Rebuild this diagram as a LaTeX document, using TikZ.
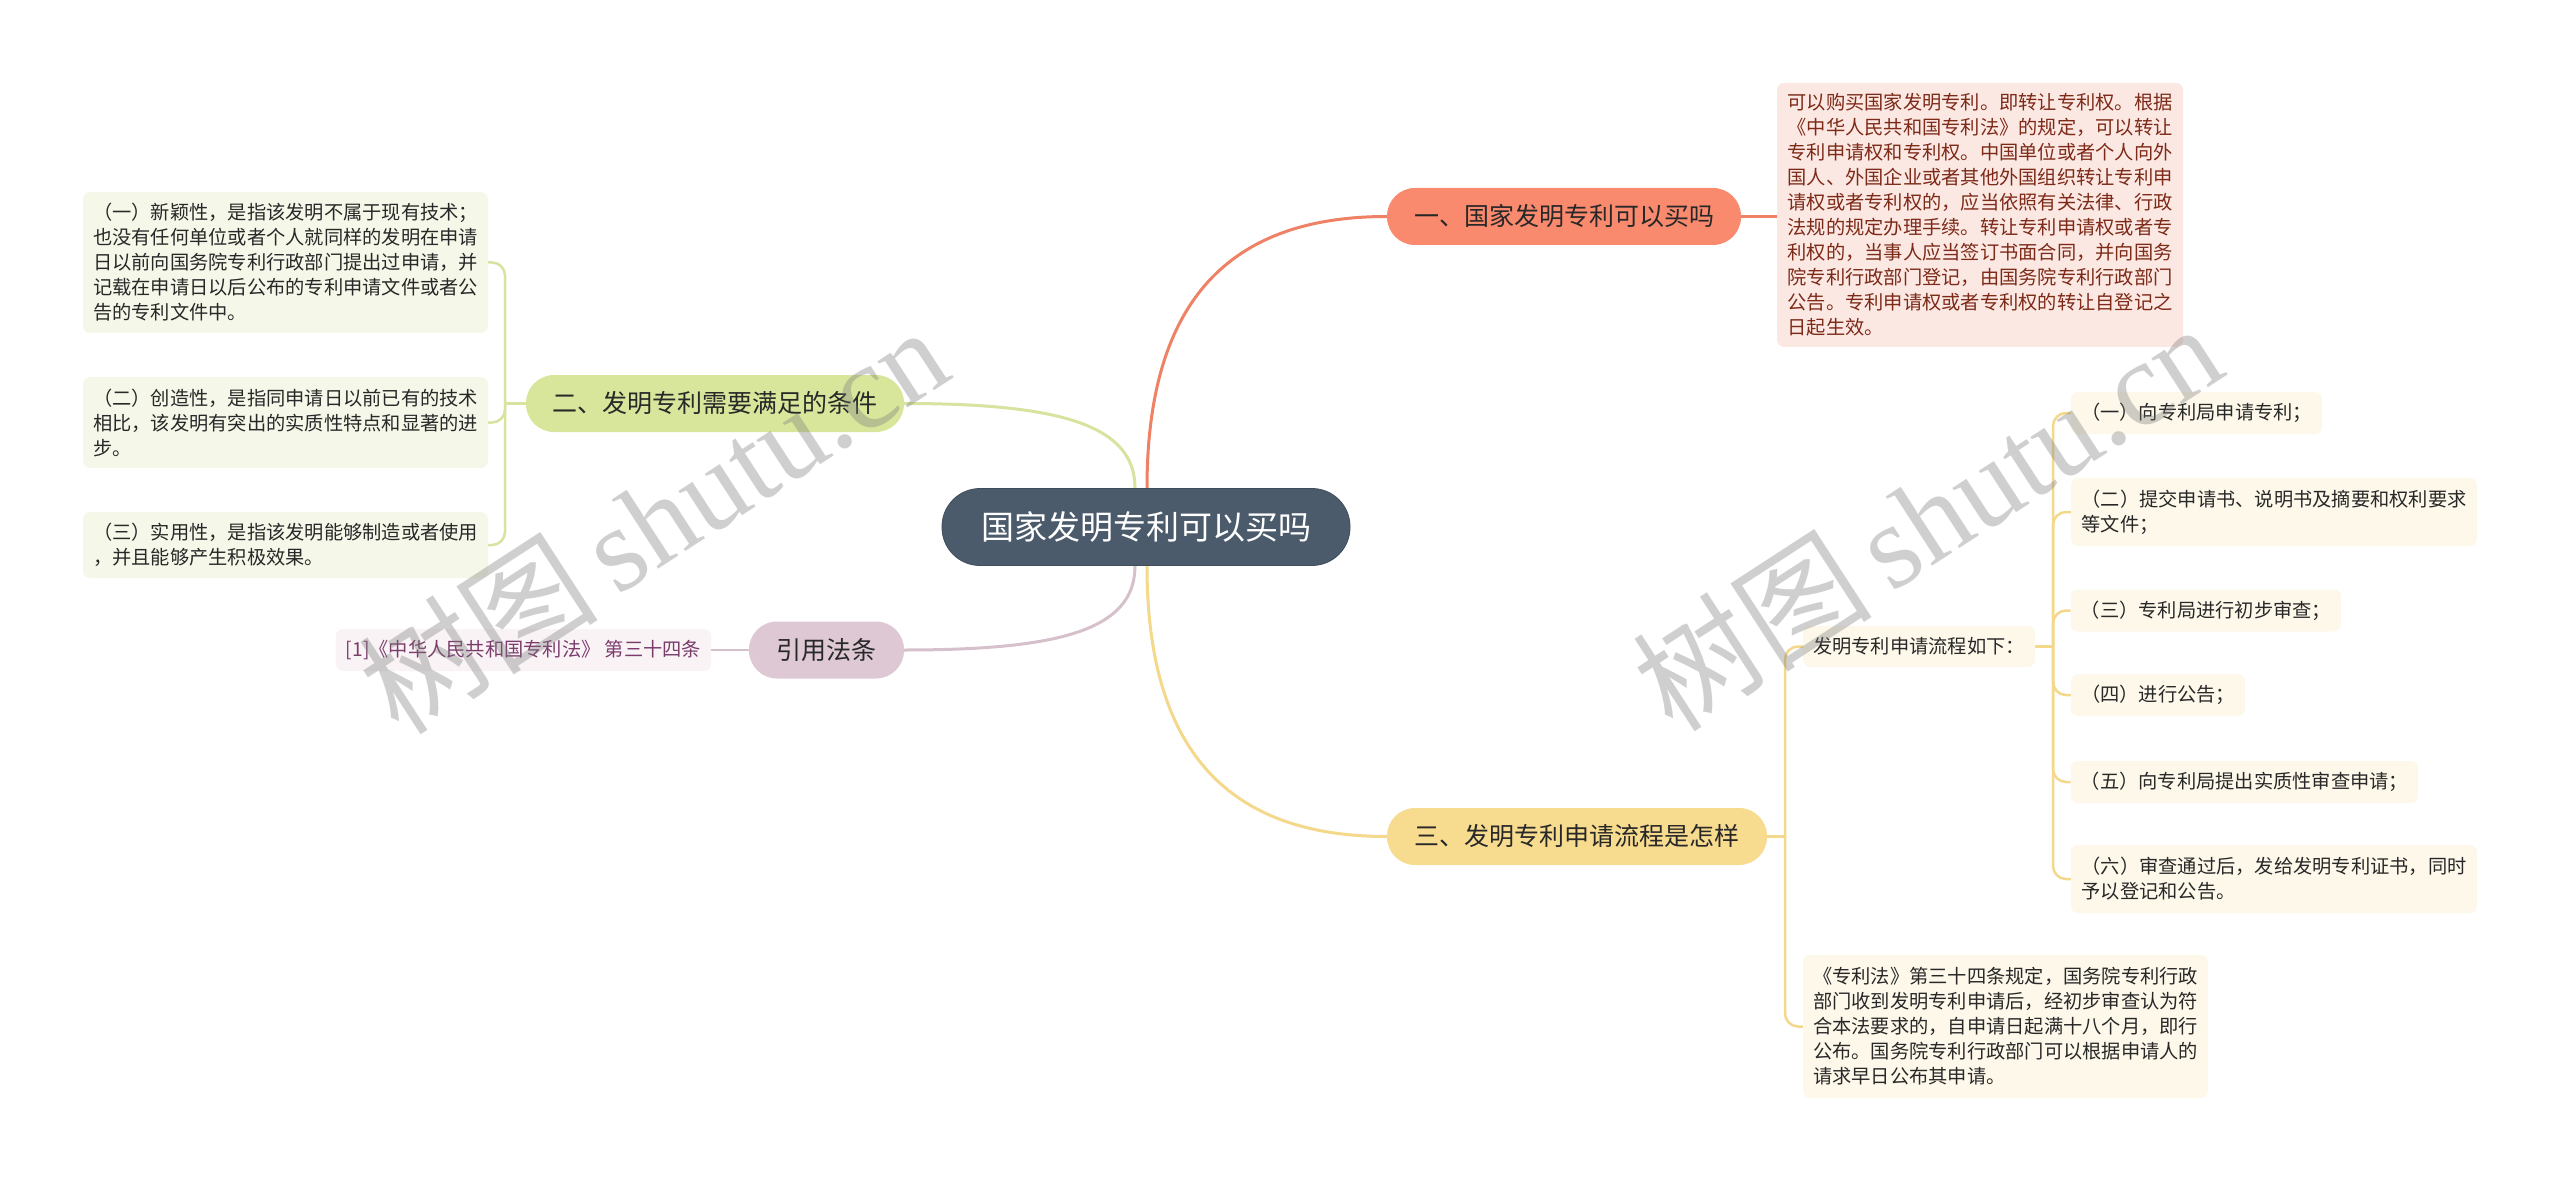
\documentclass[tikz,border=0pt]{standalone}
\usepackage{fontspec}
\setmainfont{Noto Sans CJK SC}
\newfontfamily\wmserif{Liberation Serif}
\pgfdeclarelayer{bg}
\pgfsetlayers{bg,main}
\definecolor{cfill}{RGB}{75,91,107}
\definecolor{tone}{RGB}{250,138,110}
\definecolor{ttwo}{RGB}{216,230,156}
\definecolor{tthree}{RGB}{247,219,142}
\definecolor{tfour}{RGB}{221,200,212}
\definecolor{lone}{RGB}{239,129,101}
\definecolor{ltwo}{RGB}{215,228,160}
\definecolor{lthree}{RGB}{244,216,140}
\definecolor{lfour}{RGB}{213,192,204}
\definecolor{bgone}{RGB}{252,232,227}
\definecolor{bgtwo}{RGB}{245,248,233}
\definecolor{bgthree}{RGB}{253,248,234}
\definecolor{bgfour}{RGB}{249,243,246}
\definecolor{txone}{RGB}{125,42,24}
\definecolor{txfour}{RGB}{123,60,108}
\definecolor{txdark}{RGB}{40,40,40}
\definecolor{wm}{RGB}{120,120,120}
\tikzset{
  central/.style={draw=cfill!85!black, line width=0.8pt, fill=cfill, text=white,
    rounded corners=38pt, minimum width=408pt, minimum height=77pt, inner sep=0pt,
    font=\fontsize{33}{40}\selectfont},
  topic/.style={rounded corners=28pt, minimum height=57pt, inner sep=0pt,
    font=\fontsize{25}{30}\selectfont, text=txdark},
  leaf/.style={rounded corners=7pt, inner xsep=10pt, inner ysep=0pt,
    font=\fontsize{19.25}{25}\selectfont, align=left, text=txdark},
  mainline/.style={line width=3pt},
  subline/.style={line width=2.5pt, rounded corners=13pt},
  wmark/.style={rotate=33, text=wm, text opacity=0.35, inner sep=0pt}
}
\begin{document}
\begin{tikzpicture}[x=1pt,y=-1pt]
\useasboundingbox (0,0) rectangle (2560,1182);
\begin{pgfonlayer}{bg}
\fill[white] (0,0) rectangle (2560,1182);
\end{pgfonlayer}

% central
\node[central] (C) at (1146,527) {国家发明专利可以买吗};

% topics
\node[topic, fill=tone, minimum width=354pt] (T1) at (1564,216.5) {一、国家发明专利可以买吗};
\node[topic, fill=ttwo, minimum width=378pt] (T2) at (715,403.5) {二、发明专利需要满足的条件};
\node[topic, fill=tthree, minimum width=380pt] (T3) at (1577,836.5) {三、发明专利申请流程是怎样};
\node[topic, fill=tfour, minimum width=155pt] (T4) at (826.5,650) {引用法条};

% branch one
\node[leaf, fill=bgone, text=txone, minimum width=406pt, minimum height=264pt] (P) at (1980,215) {可以购买国家发明专利。即转让专利权。根据\\《中华人民共和国专利法》的规定，可以转让\\专利申请权和专利权。中国单位或者个人向外\\国人、外国企业或者其他外国组织转让专利申\\请权或者专利权的，应当依照有关法律、行政\\法规的规定办理手续。转让专利申请权或者专\\利权的，当事人应当签订书面合同，并向国务\\院专利行政部门登记，由国务院专利行政部门\\公告。专利申请权或者专利权的转让自登记之\\日起生效。};

% branch two
\node[leaf, fill=bgtwo, minimum width=405pt, minimum height=141pt] (La) at (285.5,262.5) {（一）新颖性，是指该发明不属于现有技术；\\也没有任何单位或者个人就同样的发明在申请\\日以前向国务院专利行政部门提出过申请，并\\记载在申请日以后公布的专利申请文件或者公\\告的专利文件中。};
\node[leaf, fill=bgtwo, minimum width=405pt, minimum height=91pt] (Lb) at (285.5,422.5) {（二）创造性，是指同申请日以前已有的技术\\相比，该发明有突出的实质性特点和显著的进\\步。};
\node[leaf, fill=bgtwo, minimum width=405pt, minimum height=66pt] (Lc) at (285.5,545) {（三）实用性，是指该发明能够制造或者使用\\，并且能够产生积极效果。};

% branch three
\node[leaf, fill=bgthree, minimum width=232pt, minimum height=41pt] (Q0) at (1919,646.5) {发明专利申请流程如下：};
\node[leaf, fill=bgthree, minimum width=251pt, minimum height=42pt] (Q1) at (2196.5,413) {（一）向专利局申请专利；};
\node[leaf, fill=bgthree, minimum width=406pt, minimum height=68pt] (Q2) at (2274,512) {（二）提交申请书、说明书及摘要和权利要求\\等文件；};
\node[leaf, fill=bgthree, minimum width=270pt, minimum height=42pt] (Q3) at (2206,610.5) {（三）专利局进行初步审查；};
\node[leaf, fill=bgthree, minimum width=174pt, minimum height=42pt] (Q4) at (2158,695) {（四）进行公告；};
\node[leaf, fill=bgthree, minimum width=347pt, minimum height=42pt] (Q5) at (2244.5,782) {（五）向专利局提出实质性审查申请；};
\node[leaf, fill=bgthree, minimum width=406pt, minimum height=68pt] (Q6) at (2274,879) {（六）审查通过后，发给发明专利证书，同时\\予以登记和公告。};
\node[leaf, fill=bgthree, minimum width=405pt, minimum height=143pt] (R) at (2005.5,1026.5) {《专利法》第三十四条规定，国务院专利行政\\部门收到发明专利申请后，经初步审查认为符\\合本法要求的，自申请日起满十八个月，即行\\公布。国务院专利行政部门可以根据申请人的\\请求早日公布其申请。};

% branch four
\node[leaf, fill=bgfour, text=txfour, minimum width=375pt, minimum height=42pt] (S) at (523.5,650) {[1]《中华人民共和国专利法》 第三十四条};

% junction points
\coordinate (s2) at (505,403.5);
\coordinate (s3) at (1785,836.5);
\coordinate (s4) at (2053,646.5);

\begin{pgfonlayer}{bg}
% main curves
\draw[mainline, lone] ([xshift=1pt]C.north) .. controls (1147,300) and (1230,216.5) .. (T1.west);
\draw[mainline, lthree] ([xshift=1pt]C.south) .. controls (1147,753) and (1230,836.5) .. (T3.west);
\draw[mainline, ltwo] ([xshift=-11pt]C.north) .. controls (1135,425) and (1060,403.5) .. (T2.east);
\draw[mainline, lfour] ([xshift=-11pt]C.south) .. controls (1135,630) and (1060,650) .. (T4.east);
% branch one
\draw[subline, lone] (T1.east) -- (T1.east -| P.west);
% branch two
\draw[subline, ltwo] (T2.west) -- (s2);
\draw[subline, ltwo] (s2) |- (La.east);
\draw[subline, ltwo] (s2) |- (Lb.east);
\draw[subline, ltwo] (s2) |- (Lc.east);
% branch three
\draw[subline, lthree] (T3.east) -- (s3);
\draw[subline, lthree] (s3) |- (Q0.west);
\draw[subline, lthree] (s3) |- (R.west);
\draw[subline, lthree] (Q0.east) -- (s4);
\draw[subline, lthree] (s4) |- (Q1.west);
\draw[subline, lthree] (s4) |- (Q2.west);
\draw[subline, lthree] (s4) |- (Q3.west);
\draw[subline, lthree] (s4) |- (Q4.west);
\draw[subline, lthree] (s4) |- (Q5.west);
\draw[subline, lthree] (s4) |- (Q6.west);
% branch four
\draw[subline, lfour] (T4.west) -- (S.east);
\end{pgfonlayer}

% watermarks
\node[wmark] (W1) at (653,519) {\fontsize{120}{120}\selectfont 树图\,{\wmserif shutu.cn}};
\node[wmark] (W2) at (1927,516) {\fontsize{120}{120}\selectfont 树图\,{\wmserif shutu.cn}};
\end{tikzpicture}
\end{document}
